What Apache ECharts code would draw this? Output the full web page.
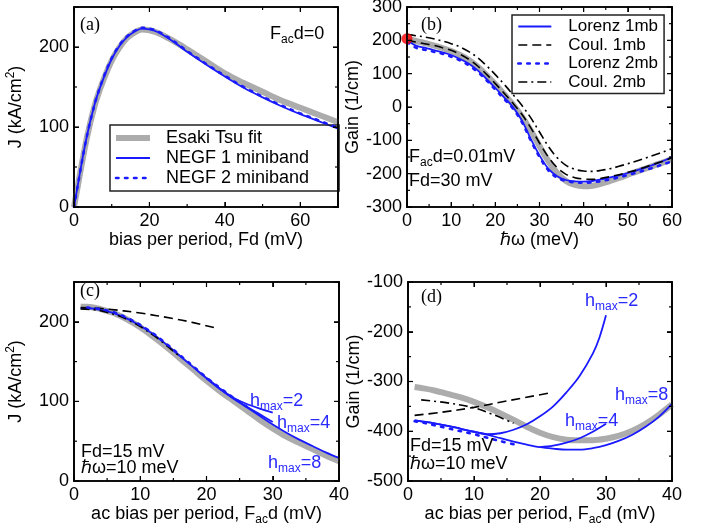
<!DOCTYPE html>
<html>
<head>
<meta charset="utf-8">
<script src="https://cdn.jsdelivr.net/npm/echarts@6/dist/echarts.min.js"></script>
<style>
  html, body { margin: 0; padding: 0; background: #fff; }
  .layer { position: absolute; left: 0; top: 0; width: 711px; height: 529px; }
  #frame { pointer-events: none; }
</style>
</head>
<body>
<div id="chart" class="layer"></div>
<div id="frame" class="layer"></div>
<script>
// ---------- (a) static J(F): Esaki-Tsu fit vs NEGF ----------
const biasA      = [0, 1, 2, 3, 4, 5, 6, 8, 10, 12, 14, 16, 18, 20, 22, 25, 28, 30, 35, 40, 45, 50, 55, 60, 65, 70];
const esakiTsuA  = [0, 26, 52, 77, 99, 118, 135, 161, 183, 199, 211, 218, 222, 221, 218, 211, 203, 197, 182, 167, 155, 144, 133, 124, 115, 106];
const negf1A     = [0, 27, 54, 79, 101, 120, 137, 163, 185, 201, 212, 219, 223, 222, 219, 211, 201, 194, 178, 163, 149, 137, 126, 116, 107, 98];
const negf2A     = [0, 27, 54, 79, 101, 120, 137, 164, 186, 202, 213, 220, 224, 223, 220, 212, 202, 195, 179, 164, 150, 138, 127, 117, 108, 99];

// ---------- (b) small-signal gain vs photon energy ----------
const omegaB     = [0, 2, 4, 6, 8, 10, 12, 14, 16, 18, 20, 22, 24, 26, 28, 30, 32, 34, 36, 38, 40, 42, 44, 46, 48, 50, 52, 54, 56, 58, 60];
const gainFitB   = [205, 198, 192, 185, 177, 168, 156, 141, 121, 96, 68, 38, 7, -28, -70, -117, -162, -198, -222, -234, -238, -236, -230, -222, -213, -203, -194, -185, -175, -166, -156];
const lorenz1B   = [200, 184, 178, 171, 164, 156, 144, 130, 110, 84, 57, 29, 0, -40, -95, -145, -185, -208, -219, -223, -224, -222, -217, -211, -205, -198, -190, -182, -172, -162, -150];
const coul1B     = [200, 195, 190, 185, 178, 170, 158, 143, 123, 98, 70, 41, 11, -22, -62, -108, -150, -182, -202, -212, -216, -217, -214, -209, -203, -196, -189, -180, -171, -162, -152];
const lorenz2B   = [195, 178, 172, 166, 160, 151, 140, 125, 105, 80, 52, 24, -5, -45, -100, -150, -190, -212, -222, -226, -227, -226, -222, -217, -211, -204, -197, -189, -181, -172, -163];
const coul2B     = [218, 214, 210, 205, 198, 190, 180, 166, 148, 124, 97, 68, 37, 5, -32, -75, -118, -152, -175, -187, -192, -193, -190, -185, -178, -170, -162, -153, -144, -135, -125];
const dcGainB    = [[0, 205]];

// ---------- (c) dc current vs ac amplitude ----------
const acC        = [1, 2, 4, 6, 8, 10, 12, 14, 16, 18, 20, 22, 24, 26, 28, 30, 32, 34, 36, 38, 40];
const jFitC      = [219, 219, 216, 211, 203, 193, 181, 168, 154, 140, 126, 113, 101, 89, 77, 66, 56, 48, 40, 32, 25];
const jH8C       = [217, 217, 215, 211, 204, 195, 184, 171, 157, 143, 129, 116, 104, 93, 82, 71, 61, 52, 44, 36, 29];
const acH4C      = [20, 22, 24, 26, 28, 30];
const jH4C       = [129, 116, 104, 94, 84, 74];
const acH2C      = [20, 22, 24, 26, 28, 30];
const jH2C       = [129, 116, 105, 97, 91, 86];
const ac2mbC     = [2, 4, 6, 8, 10, 12, 14, 16, 18, 20, 22, 24, 26];
const j2mbC      = [218, 216, 212, 205, 196, 185, 172, 158, 144, 130, 117, 105, 94];
const acCoulC    = [1, 5, 10, 15, 18, 21.5];
const jCoulC     = [218, 216, 211, 204, 199, 192];
const acCoul2C   = [1, 4, 8, 12, 16];
const jCoul2C    = [216, 214, 203, 183, 156];

// ---------- (d) gain vs ac amplitude ----------
const acD        = [1, 2, 4, 6, 8, 10, 12, 14, 16, 18, 20, 22, 24, 26, 28, 30, 32, 34, 36, 38, 40];
const gFitD      = [-311, -313, -318, -325, -332, -341, -352, -364, -377, -391, -403, -412, -417, -418, -418, -415, -409, -399, -385, -367, -346];
const gH8D       = [-378, -380, -384, -389, -395, -401, -407, -414, -421, -427, -432, -435, -437, -437, -434, -428, -419, -407, -391, -371, -345];
const acH4D      = [20, 22, 24, 26, 28, 30];
const gH4D       = [-432, -429, -423, -414, -401, -385];
const acH2D      = [1, 2, 4, 6, 8, 10, 12, 14, 16, 18, 20, 22, 24, 26, 28, 29, 30];
const gH2D       = [-378, -380, -384, -389, -395, -401, -406, -404, -397, -386, -370, -350, -322, -289, -244, -212, -167];
const ac2mbD     = [1, 2, 4, 6, 8, 10, 12, 14, 16];
const g2mbD      = [-380, -382, -388, -394, -400, -406, -413, -420, -426];
const acCoulD    = [1, 5, 10, 15, 21.5];
const gCoulD     = [-368, -362, -352, -339, -323];
const acCoul2D   = [2, 6, 10, 13, 16];
const gCoul2D    = [-337, -343, -353, -367, -384];

// ---------- styling ----------
const FONT = 'Liberation Sans';
const SERIF = 'Liberation Serif';
const BLUE = '#1a1aff';
const BLUE_TXT = '#2a2aff';
const GRAY = '#acacac';
const BLACK = '#000000';

const RICH = {
  n:  { fontSize: 18, fontFamily: FONT, color: BLACK, fill: BLACK },
  s:  { fontSize: 12, fontFamily: FONT, color: BLACK, fill: BLACK, padding: [11, 0, 0, 0] },
  p:  { fontSize: 12, fontFamily: FONT, color: BLACK, fill: BLACK, padding: [0, 0, 10, 0] },
  bn: { fontSize: 18, fontFamily: FONT, color: BLUE_TXT, fill: BLUE_TXT },
  bs: { fontSize: 12, fontFamily: FONT, color: BLUE_TXT, fill: BLUE_TXT, padding: [11, 0, 0, 0] }
};

// panel extents and tick steps: [xMin, xMax, xMajor, xMinor, yMin, yMax, yMajor, yMinor]
const panelRanges = [
  [0, 70, 20, 10, 0, 250, 100, 50],
  [0, 60, 10, 5, -300, 300, 100, 50],
  [0, 40, 10, 5, 0, 250, 100, 50],
  [0, 40, 10, 5, -500, -100, 100, 50]
];

const gridBoxes = [
  { left: 74,  top: 7,   width: 264, height: 200 },
  { left: 407, top: 7,   width: 265, height: 200 },
  { left: 74,  top: 282, width: 265, height: 199 },
  { left: 408, top: 282, width: 264, height: 199 }
];
const makeGrids = () => gridBoxes.map(g => Object.assign({ show: false, containLabel: false, outerBoundsMode: 'none' }, g));

const LINE = { show: true, onZero: false, lineStyle: { color: BLACK, width: 1.7 } };
const LABEL = { show: true, fontSize: 18, fontFamily: FONT, color: BLACK, margin: 5 };

// labelled axis on the main side plus a mirrored one closing the frame
function axisSet(dim, g, name, nameGap) {
  const r = panelRanges[g];
  const min = dim === 'x' ? r[0] : r[4];
  const max = dim === 'x' ? r[1] : r[5];
  const major = dim === 'x' ? r[2] : r[6];
  const base = { type: 'value', gridIndex: g, min: min, max: max, interval: major,
                 splitLine: { show: false }, axisTick: { show: false } };
  return [
    Object.assign({}, base, {
      position: dim === 'x' ? 'bottom' : 'left', axisLine: LINE,
      axisLabel: Object.assign({}, LABEL, { showMaxLabel: max % major === 0 }),
      name: name, nameLocation: 'middle', nameGap: nameGap,
      nameTextStyle: { fontSize: 18, fontFamily: FONT, color: BLACK, rich: RICH }
    }),
    Object.assign({}, base, { position: dim === 'x' ? 'top' : 'right', axisLine: LINE, axisLabel: { show: false } })
  ];
}

const xAxes = [].concat(
  axisSet('x', 0, '{n|bias per period, Fd (mV)}', 22),
  axisSet('x', 1, '{n|ℏω (meV)}', 22),
  axisSet('x', 2, '{n|ac bias per period, F}{s|ac}{n|d (mV)}', 22),
  axisSet('x', 3, '{n|ac bias per period, F}{s|ac}{n|d (mV)}', 22)
);
const yAxes = [].concat(
  axisSet('y', 0, '{n|J (kA/cm}{p|2}{n|)}', 47),
  axisSet('y', 1, '{n|Gain (1/cm)}', 45),
  axisSet('y', 2, '{n|J (kA/cm}{p|2}{n|)}', 47),
  axisSet('y', 3, '{n|Gain (1/cm)}', 45)
);

const pairs = (xs, ys) => xs.map((x, i) => [x, ys[i]]);

const STYLES = {
  fit:    { color: GRAY,  width: 6,   type: 'solid' },
  solid:  { color: BLUE,  width: 1.8, type: 'solid' },
  dots:   { color: BLUE,  width: 2.6, type: [2.5, 6.5], cap: 'round' },
  dash:   { color: BLACK, width: 1.6, type: [9, 5] },
  dashdot:{ color: BLACK, width: 1.6, type: [9, 4, 2, 4] }
};

function line(name, panel, xs, ys, styleKey, z) {
  const st = STYLES[styleKey];
  return {
    type: 'line', name: name, xAxisIndex: panel * 2, yAxisIndex: panel * 2,
    data: pairs(xs, ys), showSymbol: false, symbol: 'none', smooth: 0.35,
    lineStyle: { color: st.color, width: st.width, type: st.type, cap: st.cap || 'butt' },
    itemStyle: { color: st.color }, z: z || 2, silent: true
  };
}

const series = [
  // (a)
  line('Esaki Tsu fit',   0, biasA, esakiTsuA, 'fit', 1),
  line('NEGF 1 miniband', 0, biasA, negf1A, 'solid', 3),
  line('NEGF 2 miniband', 0, biasA, negf2A, 'dots', 4),
  // (b)
  line('fit (b)',    1, omegaB, gainFitB, 'fit', 1),
  line('Lorenz 1mb', 1, omegaB, lorenz1B, 'solid', 3),
  line('Coul. 1mb',  1, omegaB, coul1B, 'dash', 3),
  line('Lorenz 2mb', 1, omegaB, lorenz2B, 'dots', 4),
  line('Coul. 2mb',  1, omegaB, coul2B, 'dashdot', 3),
  {
    type: 'scatter', name: 'dc gain', xAxisIndex: 2, yAxisIndex: 2, data: dcGainB,
    symbolSize: 11, itemStyle: { color: '#ff0000' }, clip: false, z: 10, silent: true
  },
  // (c)
  line('fit (c)',  2, acC, jFitC, 'fit', 1),
  line('hmax=8 (c)', 2, acC, jH8C, 'solid', 3),
  line('hmax=4 (c)', 2, acH4C, jH4C, 'solid', 3),
  line('hmax=2 (c)', 2, acH2C, jH2C, 'solid', 3),
  line('2mb (c)',    2, ac2mbC, j2mbC, 'dots', 4),
  line('coul (c)',   2, acCoulC, jCoulC, 'dash', 3),
  line('coul2 (c)',  2, acCoul2C, jCoul2C, 'dashdot', 3),
  // (d)
  line('fit (d)',  3, acD, gFitD, 'fit', 1),
  line('hmax=8 (d)', 3, acD, gH8D, 'solid', 3),
  line('hmax=4 (d)', 3, acH4D, gH4D, 'solid', 3),
  line('hmax=2 (d)', 3, acH2D, gH2D, 'solid', 3),
  line('2mb (d)',    3, ac2mbD, g2mbD, 'dots', 4),
  line('coul (d)',   3, acCoulD, gCoulD, 'dash', 3),
  line('coul2 (d)',  3, acCoul2D, gCoul2D, 'dashdot', 3)
];

const legendCommon = {
  orient: 'vertical', borderColor: '#222', borderWidth: 1.5, selectedMode: false,
  itemStyle: { opacity: 0 }, lineStyle: { width: 'inherit' }
};
const legends = [
  Object.assign({}, legendCommon, {
    data: ['Esaki Tsu fit', 'NEGF 1 miniband', 'NEGF 2 miniband'],
    left: 110, top: 125, itemWidth: 34, itemHeight: 14, itemGap: 2, padding: [4, 30, 4, 3],
    textStyle: { fontSize: 18, fontFamily: FONT, color: BLACK, lineHeight: 18, padding: [0, 0, 0, 11] }
  }),
  Object.assign({}, legendCommon, {
    data: ['Lorenz 1mb', 'Coul. 1mb', 'Lorenz 2mb', 'Coul. 2mb'],
    left: 512, top: 15, itemWidth: 33, itemHeight: 12, itemGap: 1.5, padding: [3, 6, 3, 5],
    textStyle: { fontSize: 17, fontFamily: FONT, color: BLACK, lineHeight: 17, padding: [0, 0, 0, 12] }
  })
];

function txt(x, y, text, extra) {
  return {
    type: 'text', x: x, y: y, silent: true, z: 50,
    style: Object.assign({
      text: text, rich: RICH, fill: BLACK, fontSize: 18, fontFamily: FONT,
      align: 'left', verticalAlign: 'middle'
    }, extra || {})
  };
}
const serif = { fontFamily: SERIF, fontSize: 18 };

const graphics = [
  txt(80, 25, '(a)', serif),
  txt(270, 34, '{n|F}{s|ac}{n|d=0}'),
  txt(421, 25, '(b)', serif),
  txt(409, 157, '{n|F}{s|ac}{n|d=0.01mV}'),
  txt(409, 181, 'Fd=30 mV'),
  txt(80, 291, '(c)', serif),
  txt(250, 401, '{bn|h}{bs|max}{bn|=2}'),
  txt(277, 423, '{bn|h}{bs|max}{bn|=4}'),
  txt(268, 463, '{bn|h}{bs|max}{bn|=8}'),
  txt(81, 452, 'Fd=15 mV'),
  txt(81, 468, 'ℏω=10 meV'),
  txt(421, 297, '(d)', serif),
  txt(585, 301, '{bn|h}{bs|max}{bn|=2}'),
  txt(615, 395, '{bn|h}{bs|max}{bn|=8}'),
  txt(565, 421, '{bn|h}{bs|max}{bn|=4}'),
  txt(410, 446, 'Fd=15 mV'),
  txt(410, 464, 'ℏω=10 meV')
];

const chart = echarts.init(document.getElementById('chart'), null, { renderer: 'canvas' });
chart.setOption({
  animation: false,
  backgroundColor: '#fff',
  grid: makeGrids(),
  xAxis: xAxes,
  yAxis: yAxes,
  legend: legends,
  series: series,
  graphic: graphics
});

// ---------- frame layer: panel borders with inward ticks on all four sides ----------
function frameAxes(dim) {
  const out = [];
  for (let g = 0; g < 4; g++) {
    const r = panelRanges[g];
    const base = {
      type: 'value', gridIndex: g,
      min: dim === 'x' ? r[0] : r[4], max: dim === 'x' ? r[1] : r[5],
      interval: dim === 'x' ? r[2] : r[6],
      axisLine: { show: true, onZero: false, lineStyle: { color: BLACK, width: 1.7 } },
      axisLabel: { show: false }, splitLine: { show: false },
      axisTick: { show: true, inside: true, length: 5 }
    };
    out.push(Object.assign({}, base, { position: dim === 'x' ? 'bottom' : 'left' }));
    out.push(Object.assign({}, base, { position: dim === 'x' ? 'top' : 'right' }));
  }
  return out;
}

function tickMarks(panel) {
  const r = panelRanges[panel];
  const isMajor = (v, step) => Math.abs(v / step - Math.round(v / step)) < 1e-6;
  return {
    type: 'custom', xAxisIndex: panel * 2, yAxisIndex: panel * 2,
    data: [[(r[0] + r[1]) / 2, (r[4] + r[5]) / 2]],
    renderItem: function (params, api) {
      const lo = api.coord([r[0], r[4]]);
      const hi = api.coord([r[1], r[5]]);
      const kids = [];
      const seg = (x1, y1, x2, y2) => kids.push({
        type: 'line', shape: { x1: x1, y1: y1, x2: x2, y2: y2 },
        style: { stroke: BLACK, lineWidth: 1.2 }
      });
      const nx = Math.round((r[1] - r[0]) / r[3]);
      for (let i = 0; i <= nx; i++) {
        const v = r[0] + i * r[3];
        const px = api.coord([v, r[4]])[0];
        const len = isMajor(v, r[2]) ? 5 : 3;
        seg(px, lo[1], px, lo[1] - len);
        seg(px, hi[1], px, hi[1] + len);
      }
      const ny = Math.round((r[5] - r[4]) / r[7]);
      for (let i = 0; i <= ny; i++) {
        const v = r[4] + i * r[7];
        const py = api.coord([r[0], v])[1];
        const len = isMajor(v, r[6]) ? 5 : 3;
        seg(lo[0], py, lo[0] + len, py);
        seg(hi[0], py, hi[0] - len, py);
      }
      return { type: 'group', children: kids };
    }
  };
}

const frame = echarts.init(document.getElementById('frame'), null, { renderer: 'canvas' });
frame.setOption({
  animation: false,
  backgroundColor: 'transparent',
  grid: makeGrids(),
  xAxis: frameAxes('x'),
  yAxis: frameAxes('y'),
  series: [tickMarks(0), tickMarks(1), tickMarks(2), tickMarks(3)]
});
</script>
</body>
</html>
